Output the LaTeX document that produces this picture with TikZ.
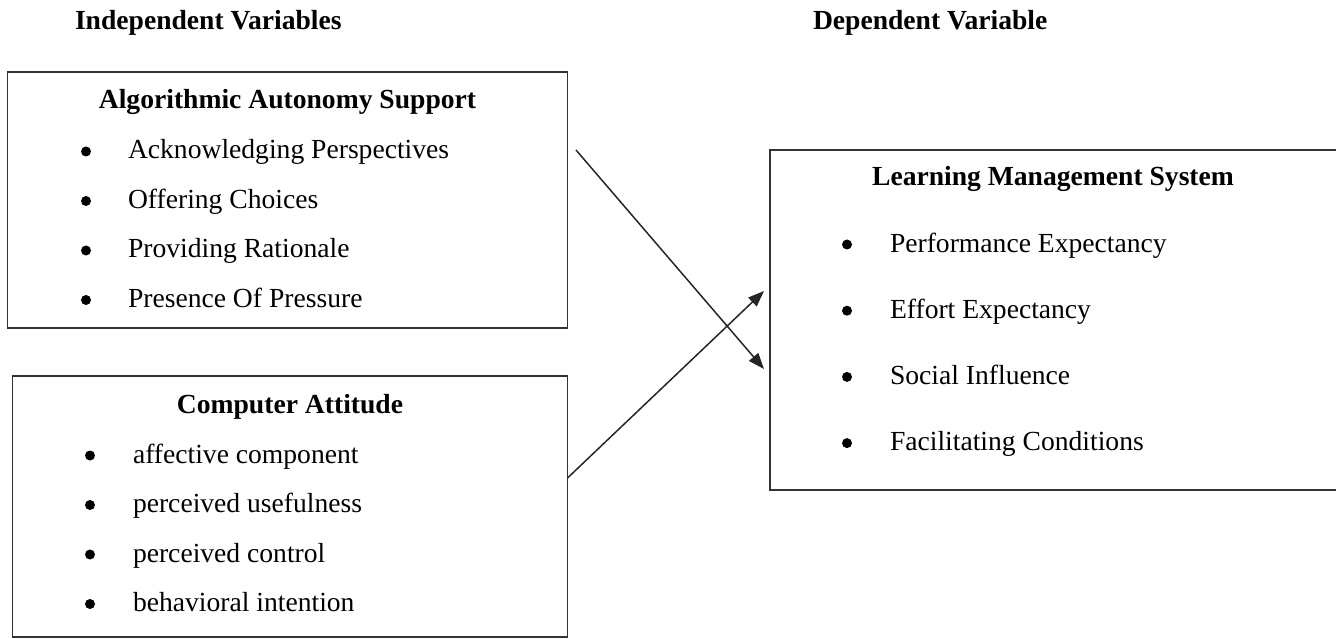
\documentclass[tikz,border=0pt]{standalone}
\usepackage{fontspec}
\setmainfont{Liberation Serif}
\usetikzlibrary{arrows.meta}
\begin{document}
\begin{tikzpicture}[x=1pt,y=-1pt,
  every node/.style={inner sep=0pt, outer sep=0pt, font=\fontsize{27.6}{33}\selectfont},
  frame/.style={draw=black!80, line width=1.6pt, anchor=north west},
  heading/.style={font=\fontsize{27.6}{33}\selectfont\bfseries, anchor=base west},
  title/.style={font=\fontsize{27.6}{33}\selectfont\bfseries, anchor=base},
  item/.style={anchor=base west},
  dot/.style={circle, fill=black, minimum size=10pt},
  link/.style={draw=black!85, line width=1.5pt, -{Triangle[length=16pt,width=12pt]}}]
\useasboundingbox (0,0) rectangle (1336,639);
\clip (0,0) rectangle (1336,639);

% column headings
\node[heading] (indep) at (75,30) {Independent Variables};
\node[heading] (dep) at (813,30) {Dependent Variable};

% boxes
\node[frame, minimum width=560pt, minimum height=256pt] (aas) at (7.5,72) {};
\node[frame, minimum width=555pt, minimum height=261pt] (ca) at (12.5,376) {};
\node[frame, minimum width=575pt, minimum height=340pt] (lms) at (770,150) {};

% Algorithmic Autonomy Support
\node[title] (aas-title) at (287.5,109) {Algorithmic Autonomy Support};
\foreach \t [count=\i] in {Acknowledging Perspectives, Offering Choices, Providing Rationale, Presence Of Pressure} {
  \node[dot] (aas-dot-\i) at (86,{151.5+49.5*(\i-1)}) {};
  \node[item] (aas-item-\i) at (128,{159+49.5*(\i-1)}) {\t};
}

% Computer Attitude
\node[title] (ca-title) at (290,413) {Computer Attitude};
\foreach \t [count=\i] in {affective component, perceived usefulness, perceived control, behavioral intention} {
  \node[dot] (ca-dot-\i) at (90,{455.5+49.5*(\i-1)}) {};
  \node[item] (ca-item-\i) at (133,{463+49.5*(\i-1)}) {\t};
}

% Learning Management System
\node[title] (lms-title) at (1053,186) {Learning Management System};
\foreach \t [count=\i] in {Performance Expectancy, Effort Expectancy, Social Influence, Facilitating Conditions} {
  \node[dot] (lms-dot-\i) at (847,{244.5+66.2*(\i-1)}) {};
  \node[item] (lms-item-\i) at (890,{252+66.2*(\i-1)}) {\t};
}

% connectors
\coordinate (aas-out) at (576,150);
\coordinate (lms-in-low) at (764,369);
\coordinate (ca-out) at (567.5,478);
\coordinate (lms-in-high) at (764,291);
\draw[link] (aas-out) -- (lms-in-low);
\draw[link] (ca-out) -- (lms-in-high);
\end{tikzpicture}
\end{document}
